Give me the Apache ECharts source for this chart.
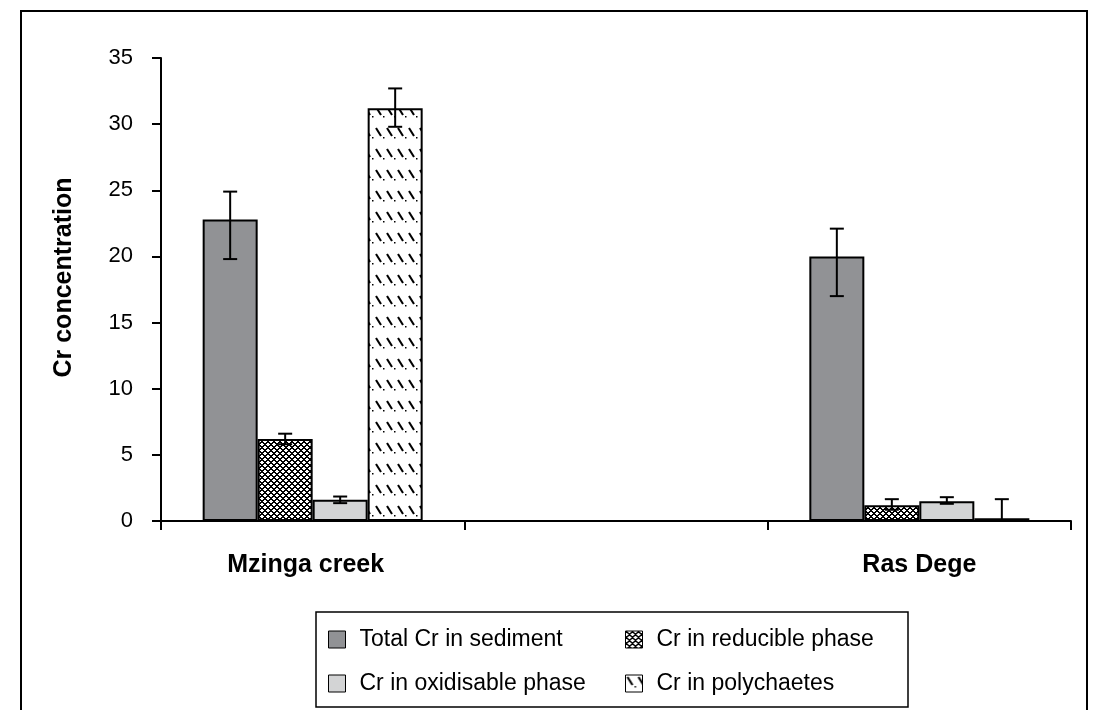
<!DOCTYPE html>
<html>
<head>
<meta charset="utf-8">
<script src="https://cdn.jsdelivr.net/npm/echarts@6/dist/echarts.min.js"></script>
<style>
html,body{margin:0;padding:0;background:#fff;}
#chart{width:1094px;height:710px;}
</style>
</head>
<body>
<div id="chart"></div>
<script>
// ---- data ----
var categories = ['Mzinga creek', '', 'Ras Dege'];
var seriesNames = ['Total Cr in sediment', 'Cr in reducible phase', 'Cr in oxidisable phase', 'Cr in polychaetes'];
var totalCr = [22.8, null, 20.0];
var totalCrLow = [19.8, null, 17.0];
var totalCrHigh = [24.9, null, 22.1];
var reducible = [6.2, null, 1.2];
var reducibleLow = [5.8, null, 0.85];
var reducibleHigh = [6.6, null, 1.65];
var oxidisable = [1.6, null, 1.5];
var oxidisableLow = [1.35, null, 1.3];
var oxidisableHigh = [1.85, null, 1.8];
var polychaetes = [31.2, null, 0.2];
var polychaetesLow = [29.8, null, 0];
var polychaetesHigh = [32.7, null, 1.65];
var yTicks = [0, 5, 10, 15, 20, 25, 30, 35];

// ---- patterns ----
function makeCheck() {
  var n = 6;
  var c = document.createElement('canvas');
  c.width = n; c.height = n;
  var ctx = c.getContext('2d');
  ctx.fillStyle = '#fff'; ctx.fillRect(0, 0, n, n);
  ctx.fillStyle = '#000';
  for (var x = 0; x < n; x++) for (var y = 0; y < n; y++) {
    var a = (x + y) % n, b = (x - y + n) % n;
    if (a === 0 || a === 1 || b === 0 || b === 1) ctx.fillRect(x, y, 1, 1);
  }
  return c;
}
function makeDash() {
  var c = document.createElement('canvas');
  c.width = 11; c.height = 21;
  var ctx = c.getContext('2d');
  ctx.fillStyle = '#fff'; ctx.fillRect(0, 0, 11, 21);
  ctx.strokeStyle = '#000'; ctx.lineWidth = 2;
  ctx.beginPath(); ctx.moveTo(2, 2); ctx.lineTo(7, 10); ctx.stroke();
  ctx.fillStyle = '#000';
  ctx.fillRect(9, 11, 1.5, 1.5);
  return c;
}
var checkPat = {image: makeCheck(), repeat: 'repeat'};
var dashPat = {image: makeDash(), repeat: 'repeat'};

var values = [totalCr, reducible, oxidisable, polychaetes];
var lows = [totalCrLow, reducibleLow, oxidisableLow, polychaetesLow];
var highs = [totalCrHigh, reducibleHigh, oxidisableHigh, polychaetesHigh];
var fills = ['#919295', checkPat, '#d3d4d5', dashPat];
var BAR_W = 55;

var series = [];
values.forEach(function (v, i) {
  series.push({
    name: seriesNames[i], type: 'bar', data: v, barWidth: BAR_W, barGap: '0%',
    itemStyle: {color: fills[i], borderColor: '#000', borderWidth: 2},
    silent: true
  });
});
values.forEach(function (v, i) {
  var errData = [];
  for (var k = 0; k < categories.length; k++) {
    if (v[k] != null) errData.push([k, lows[i][k], highs[i][k]]);
  }
  series.push({
    type: 'custom', data: errData, z: 10, silent: true,
    renderItem: function (params, api) {
      var k = api.value(0);
      var lo = api.coord([k, api.value(1)]);
      var hi = api.coord([k, api.value(2)]);
      var x = lo[0] + (i - 1.5) * BAR_W;
      var cap = 7;
      var st = {stroke: '#000', lineWidth: 2};
      return {type: 'group', children: [
        {type: 'line', shape: {x1: x, y1: lo[1], x2: x, y2: hi[1]}, style: st},
        {type: 'line', shape: {x1: x - cap, y1: lo[1], x2: x + cap, y2: lo[1]}, style: st},
        {type: 'line', shape: {x1: x - cap, y1: hi[1], x2: x + cap, y2: hi[1]}, style: st}
      ]};
    }
  });
});

var font = 'Liberation Sans, Arial, Helvetica, sans-serif';
var legendCommon = {
  orient: 'vertical', top: 628, itemWidth: 17, itemHeight: 17, itemGap: 21,
  icon: 'rect', selectedMode: false, padding: 0,
  itemStyle: {borderColor: '#000', borderWidth: 1},
  textStyle: {fontFamily: font, fontSize: 23, color: '#000', padding: [0, 0, 0, 9]}
};

var chart = echarts.init(document.getElementById('chart'));
chart.setOption({
  animation: false,
  backgroundColor: '#fff',
  grid: {left: 161, top: 58, right: 23, bottom: 189},
  legend: [
    Object.assign({left: 328, data: [seriesNames[0], seriesNames[2]]}, legendCommon),
    Object.assign({left: 625, data: [seriesNames[1], seriesNames[3]]}, legendCommon)
  ],
  xAxis: {
    type: 'category', data: categories, boundaryGap: true,
    axisLine: {lineStyle: {color: '#000', width: 2}},
    axisTick: {show: true, length: 9, lineStyle: {color: '#000', width: 2}},
    axisLabel: {
      fontFamily: font, fontSize: 25, fontWeight: 'bold', color: '#000', margin: 32,
      formatter: function (v) { return v === categories[0] ? '{a|' + v + '}' : v; },
      rich: {a: {fontFamily: font, fontSize: 25, fontWeight: 'bold', color: '#000', padding: [0, 14, 0, 0]}}
    }
  },
  yAxis: {
    type: 'value', min: yTicks[0], max: yTicks[yTicks.length - 1], interval: 5,
    name: 'Cr concentration', nameLocation: 'middle', nameRotate: 90, nameGap: 84,
    nameTextStyle: {fontFamily: font, fontSize: 25, fontWeight: 'bold', color: '#000', padding: [0, 0, 0, 24]},
    splitLine: {show: false},
    axisLine: {show: true, lineStyle: {color: '#000', width: 2}},
    axisTick: {show: true, length: 9, lineStyle: {color: '#000', width: 2}},
    axisLabel: {fontFamily: font, fontSize: 22, color: '#000', margin: 28}
  },
  graphic: [
    {type: 'rect', shape: {x: 21, y: 11, width: 1066, height: 720}, style: {fill: 'none', stroke: '#000', lineWidth: 2}, silent: true},
    {type: 'rect', shape: {x: 316, y: 612, width: 592, height: 95}, style: {fill: 'none', stroke: '#000', lineWidth: 1.5}, silent: true}
  ],
  series: series
});
</script>
</body>
</html>
